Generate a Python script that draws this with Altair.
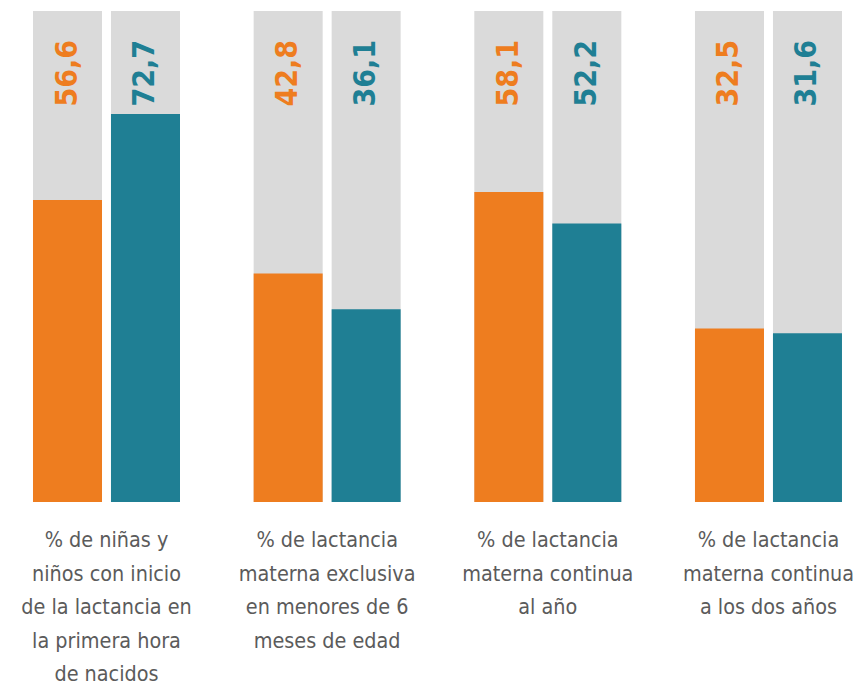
import altair as alt
import pandas as pd

groups = ["g1", "g2", "g3", "g4"]
group_labels = [
    "% de niñas y\nniños con inicio\nde la lactancia en\nla primera hora\nde nacidos",
    "% de lactancia\nmaterna exclusiva\nen menores de 6\nmeses de edad",
    "% de lactancia\nmaterna continua\nal año",
    "% de lactancia\nmaterna continua\na los dos años",
]
series = ["A", "B"]
values_a = [56.6, 42.8, 58.1, 32.5]
values_b = [72.7, 36.1, 52.2, 31.6]
background_value = 92
colors = ["#EE7D1F", "#1F7F94"]
gray = "#DADADA"
label_color = "#5B5B5B"
FONT = "DejaVu Sans Condensed, DejaVu Sans"

rows = []
for g, a, b in zip(groups, values_a, values_b):
    rows.append({"group": g, "series": "A", "value": a, "bg": background_value})
    rows.append({"group": g, "series": "B", "value": b, "bg": background_value})
df = pd.DataFrame(rows)
df["label"] = df["value"].map(lambda v: f"{v:.1f}".replace(".", ","))

lab_df = pd.DataFrame({"group": groups, "text": group_labels})

W, H = 845, 491

xscale = alt.Scale(domain=groups, paddingInner=0.3338, paddingOuter=0.0816, align=0.694)
xoff = alt.Scale(domain=series, paddingInner=0.115, paddingOuter=0)
yscale = alt.Scale(domain=[0, background_value], nice=False)
cscale = alt.Scale(domain=series, range=colors)

base = alt.Chart(df)
x = alt.X("group:N", scale=xscale, axis=None)
xo = alt.XOffset("series:N", scale=xoff)

bg = base.mark_bar(color=gray).encode(x=x, xOffset=xo, y=alt.Y("bg:Q", scale=yscale, axis=None))
bars = base.mark_bar().encode(
    x=x, xOffset=xo,
    y=alt.Y("value:Q", scale=yscale, axis=None),
    color=alt.Color("series:N", scale=cscale, legend=None),
)
vals = base.mark_text(angle=270, align="right", baseline="middle", font=FONT,
                      fontWeight="bold", fontSize=30).encode(
    x=x, xOffset=xo, y=alt.value(29), text="label:N",
    color=alt.Color("series:N", scale=cscale, legend=None),
)
cats = alt.Chart(lab_df).mark_text(align="center", baseline="alphabetic", font=FONT,
                                    fontSize=21.4, lineHeight=33.5, lineBreak="\n",
                                    color=label_color).encode(
    x=alt.X("group:N", scale=xscale, axis=None), y=alt.value(536), text="text:N"
)

chart = alt.layer(bg, bars, vals, cats).properties(
    width=W, height=H,
    autosize=alt.AutoSizeParams(type="none"),
    padding={"left": 0, "right": 0, "top": 3, "bottom": 183},
).configure_view(stroke=None)

chart.save("out.html", embed_options={"renderer": "svg", "actions": False})
